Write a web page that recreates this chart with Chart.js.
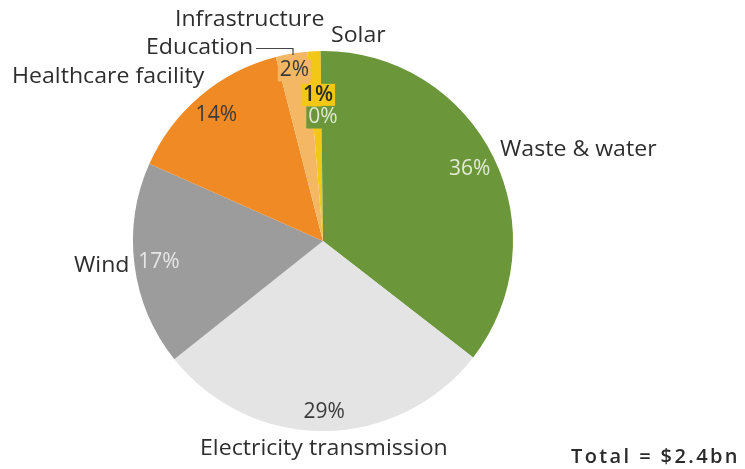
<!DOCTYPE html>
<html>
<head>
<meta charset="utf-8">
<script src="https://cdn.jsdelivr.net/npm/chart.js@4/dist/chart.umd.min.js"></script>
<style>
  html, body { margin: 0; padding: 0; background: #fff; }
  #wrap { position: relative; width: 745px; height: 469px; }
</style>
</head>
<body>
<div id="wrap"><canvas id="pie" width="745" height="469"></canvas></div>
<script>
// Slices, clockwise from 12 o'clock
const categories = ['Waste & water', 'Electricity transmission', 'Wind', 'Healthcare facility', 'Education', 'Infrastructure', 'Solar'];
const shares = [35.6, 28.9, 17.4, 14.4, 2.7, 1.1, 0.2];
const pctLabels = ['36%', '29%', '17%', '14%', '2%', '1%', '0%'];
const totalLabel = 'Total = $2.4bn';

const colors = ['#6b963a', '#e4e4e4', '#9c9c9c', '#f08a24', '#f4b865', '#f3c716', '#6b963a'];
// label look per slice: radius factor, text colour, box fill (null = none)
const pctStyle = [
    { r: 0.86, color: '#e3ead6', box: null },
    { r: 0.90, color: '#3a3a3a', box: null },
    { r: 0.87, color: '#e6e6e6', box: null },
    { r: 0.87, color: '#3a3a3a', box: null },
    { r: 0.91, color: '#3a3a3a', box: '#f4b865' },
    { r: 0.77, color: '#2a2a2a', box: '#f3c716' },
    { r: 0.65, color: '#dfe8d0', box: '#6b963a' }
];

const FONT = '"Open Sans", "Noto Sans", sans-serif';
const SX = 1.1;   // the original type is a bit wider than Open Sans

function wideText(ctx, s, x, y) {
    ctx.save();
    ctx.translate(x, y);
    ctx.scale(SX, 1);
    ctx.fillText(s, 0, 0);
    ctx.restore();
}

const labelPlugin = {
    id: 'pieLabels',
    afterDatasetsDraw(chart) {
        const ctx = chart.ctx;
        const arcs = chart.getDatasetMeta(0).data;
        ctx.save();
        ctx.textBaseline = 'middle';

        // percentage labels
        ctx.textAlign = 'center';
        arcs.forEach(function(a, i) {
            const mid = (a.startAngle + a.endAngle) / 2;
            const st = pctStyle[i];
            const rr = a.outerRadius * st.r;
            let x = a.x + Math.cos(mid) * rr;
            let y = a.y + Math.sin(mid) * rr;
            ctx.font = (i === 5 ? '600 ' : '') + '21px ' + FONT;
            if (st.box) {
                // small slices: stacked boxed labels near the top
                if (i === 6) x = a.x;
                if (i === 5) x = a.x - 5;
                const w = ctx.measureText(pctLabels[i]).width + 4;
                ctx.fillStyle = st.box;
                ctx.fillRect(x - w / 2, y - 11, w, 22);
            }
            ctx.fillStyle = st.color;
            ctx.fillText(pctLabels[i], x, y);
        });

        // category labels
        ctx.fillStyle = '#2e2e2e';
        ctx.font = '21px ' + FONT;
        ctx.textAlign = 'left';
        wideText(ctx, categories[0], 500, 150);
        wideText(ctx, categories[1], 200, 449);
        wideText(ctx, categories[2], 74, 266);
        wideText(ctx, categories[3], 12, 77);
        wideText(ctx, categories[4], 146, 48);
        wideText(ctx, categories[5], 175, 20);
        wideText(ctx, categories[6], 331, 36);

        // leader for Education
        ctx.strokeStyle = '#444';
        ctx.lineWidth = 1.2;
        ctx.beginPath();
        ctx.moveTo(256, 48.5);
        ctx.lineTo(293, 48.5);
        ctx.lineTo(293, 55);
        ctx.stroke();

        // total
        ctx.font = '600 20px ' + FONT;
        ctx.letterSpacing = '2.4px';
        ctx.fillStyle = '#2a2a2a';
        ctx.fillText(totalLabel, 571, 457);
        ctx.restore();
    }
};

new Chart(document.getElementById('pie'), {
    type: 'pie',
    data: {
        labels: categories,
        datasets: [{
            data: shares,
            backgroundColor: colors,
            borderWidth: 0
        }]
    },
    options: {
        responsive: false,
        animation: false,
        layout: { padding: { left: 133, right: 232, top: 51, bottom: 38 } },
        plugins: {
            legend: { display: false },
            tooltip: { enabled: false }
        }
    },
    plugins: [labelPlugin]
});
</script>
</body>
</html>
